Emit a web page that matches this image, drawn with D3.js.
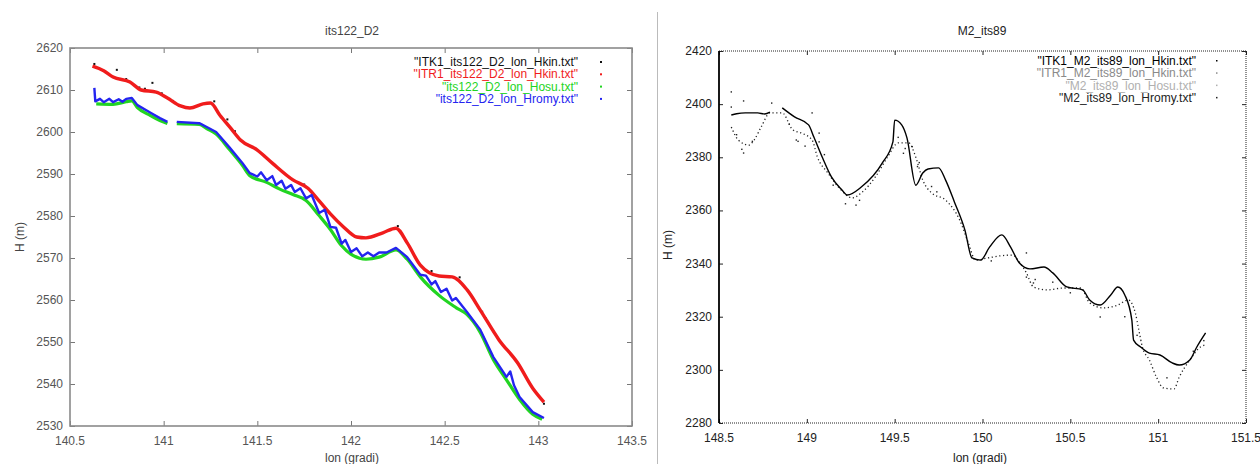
<!DOCTYPE html>
<html>
<head>
<meta charset="utf-8">
<script src="https://cdn.jsdelivr.net/npm/d3@7"></script>
<style>
  body { margin: 0; background: #fff; }
  svg { display: block; font-family: "Liberation Sans", Arial, sans-serif; }
</style>
</head>
<body>
<svg width="1260" height="464"></svg>
<script>

// ---- left panel: its122_D2 ----
var leftXTicks = [140.5, 141, 141.5, 142, 142.5, 143, 143.5];
var leftYTicks = [2530, 2540, 2550, 2560, 2570, 2580, 2590, 2600, 2610, 2620];
var leftNames = ['"ITK1_its122_D2_lon_Hkin.txt"', '"ITR1_its122_D2_lon_Hkin.txt"',
                 '"its122_D2_lon_Hosu.txt"', '"its122_D2_lon_Hromy.txt"'];
var leftColors = ["#111", "#f01c1c", "#22d422", "#2424f0"];

// null = gap in the track
var itk1Left = [[140.63,2616.2],[140.75,2614.8],[140.80,2612.6],[140.87,2610.6],[140.90,2610.3],
  [140.94,2611.7],[140.99,2609.2],[141.05,2607.4],[141.27,2607.3],[141.34,2603.0],[141.38,2600.2],
  [141.75,2587.5],[141.90,2580.0],[142.25,2577.6],[142.43,2566.9],[142.58,2565.4],[142.70,2557.2],
  [142.72,2555.6],[142.88,2545.7],[143.03,2535.3]];

var itr1Left = [[140.62,2615.7],[140.68,2614.6],[140.73,2613.1],[140.82,2611.9],[140.88,2610.0],
  [140.96,2609.5],[141.02,2608.1],[141.09,2606.2],[141.14,2605.7],[141.21,2606.7],[141.25,2606.9],
  [141.30,2604.0],[141.36,2600.8],[141.41,2598.1],[141.50,2595.7],[141.58,2592.6],[141.69,2588.6],
  [141.77,2586.6],[141.83,2583.6],[141.89,2580.5],[141.96,2577.4],[142.03,2575.0],[142.08,2574.8],
  [142.17,2576.0],[142.24,2577.1],[142.30,2573.6],[142.37,2568.3],[142.47,2565.7],[142.54,2565.5],
  [142.62,2562.4],[142.69,2557.6],[142.79,2550.5],[142.89,2545.0],[142.97,2539.0],[143.03,2535.7]];

var hosuLeft = [[140.64,2606.7],[140.73,2606.6],[140.80,2607.2],[140.83,2607.4],[140.86,2605.8],
  [140.93,2603.9],[140.98,2602.7],[141.02,2602.0], null, [141.07,2602.0],[141.19,2601.8],
  [141.23,2600.8],[141.28,2599.5],[141.35,2595.9],[141.42,2592.1],[141.46,2589.6],[141.55,2588.0],
  [141.62,2586.4],[141.69,2585.1],[141.76,2583.7],[141.83,2580.1],[141.89,2576.8],[141.95,2572.9],
  [142.01,2570.6],[142.08,2569.7],[142.15,2570.2],[142.24,2571.9],[142.30,2569.7],[142.37,2565.5],
  [142.47,2561.1],[142.56,2558.2],[142.62,2556.5],[142.69,2552.3],[142.76,2545.8],[142.83,2541.0],
  [142.90,2536.3],[142.97,2532.8],[143.02,2531.6]];

var hromyLeft = [[140.63,2610.5],[140.635,2607.3],[140.66,2607.9],[140.68,2607.1],[140.71,2607.9],
  [140.73,2607.1],[140.76,2607.8],[140.78,2607.2],[140.80,2607.9],[140.83,2608.1],[140.86,2606.4],
  [140.93,2604.6],[140.98,2603.3],[141.02,2602.4], null, [141.07,2602.4],[141.19,2602.1],
  [141.23,2601.2],[141.28,2600.0],[141.35,2596.4],[141.42,2592.6],[141.46,2590.2],[141.50,2589.4],
  [141.52,2590.4],[141.55,2588.5],[141.58,2589.5],[141.60,2587.4],[141.63,2588.4],[141.65,2586.5],
  [141.68,2587.4],[141.70,2585.7],[141.73,2586.6],[141.76,2584.2],[141.79,2585.0],[141.83,2580.7],
  [141.86,2581.5],[141.89,2577.4],[141.92,2577.2],[141.95,2573.4],[141.97,2574.3],[142.00,2571.4],
  [142.03,2572.3],[142.06,2570.4],[142.09,2571.3],[142.12,2570.4],[142.15,2571.3],[142.19,2571.3],
  [142.24,2572.4],[142.30,2570.2],[142.37,2566.0],[142.40,2565.8],[142.43,2563.7],[142.45,2564.5],
  [142.48,2561.9],[142.51,2562.7],[142.54,2559.9],[142.56,2560.5],[142.62,2557.1],[142.69,2552.9],
  [142.76,2546.4],[142.83,2541.7],[142.85,2543.0],[142.87,2539.7],[142.90,2536.9],[142.97,2533.3],
  [143.03,2531.9]];

// ---- right panel: M2_its89 ----
var rightXTicks = [148.5, 149, 149.5, 150, 150.5, 151, 151.5];
var rightYTicks = [2280, 2300, 2320, 2340, 2360, 2380, 2400, 2420];
var rightNames = ['"ITK1_M2_its89_lon_Hkin.txt"', '"ITR1_M2_its89_lon_Hkin.txt"',
                  '"M2_its89_lon_Hosu.txt"', '"M2_its89_lon_Hromy.txt"'];
var rightColors = ["#000", "#8a8a8a", "#b0b0b0", "#222"];

var itk1Right = [[148.57,2395.9],[148.60,2396.4],[148.65,2396.7],[148.72,2396.7],[148.76,2396.3],
  [148.79,2397.0], null, [148.86,2398.6],[148.93,2395.2],[149.01,2392.2],[149.04,2387.6],
  [149.09,2379.7],[149.14,2372.6],[149.20,2367.7],[149.23,2365.8],[149.31,2368.8],[149.43,2377.9],
  [149.49,2385.8],[149.50,2394.0],[149.54,2392.2],[149.57,2387.3],[149.62,2369.5],[149.66,2374.1],
  [149.69,2375.6],[149.75,2376.0],[149.79,2371.4],[149.84,2363.2],[149.90,2352.6],[149.94,2342.1],
  [149.99,2341.3],[150.04,2346.2],[150.11,2350.8],[150.16,2346.2],[150.21,2340.2],[150.27,2338.0],
  [150.35,2338.7],[150.40,2336.5],[150.48,2331.2],[150.57,2330.1],[150.61,2326.3],[150.67,2324.4],
  [150.73,2328.2],[150.77,2331.2],[150.81,2328.2],[150.85,2318.8],[150.86,2311.2],[150.90,2308.6],
  [150.95,2306.3],[151.01,2305.6],[151.08,2302.6],[151.12,2301.8],[151.18,2303.7],[151.22,2308.6],
  [151.27,2313.9]];

var itr1Right = [[148.57,2391.4],[148.61,2386.5],[148.67,2384.6],[148.70,2386.5],[148.74,2391.4],
  [148.79,2396.7],[148.86,2396.7],[148.92,2390.3],[148.97,2389.1],[149.03,2386.5],[149.06,2380.1],
  [149.12,2374.1],[149.18,2368.8],[149.26,2364.7],[149.31,2366.6],[149.39,2372.6],[149.46,2380.1],
  [149.52,2385.4],[149.58,2385.4],[149.62,2380.1],[149.66,2371.4],[149.71,2366.6],[149.79,2363.9],
  [149.87,2356.4],[149.92,2347.7],[149.96,2341.3],[150.03,2342.1],[150.10,2342.9],[150.17,2343.2],
  [150.21,2340.6],[150.25,2336.5],[150.29,2331.2],[150.37,2330.1],[150.46,2330.8],[150.56,2330.8],
  [150.61,2325.2],[150.69,2323.3],[150.77,2324.4],[150.83,2326.3],[150.87,2321.4],[150.89,2315.0],
  [150.91,2308.6],[150.95,2303.7],[150.99,2297.3],[151.03,2293.2],[151.09,2292.8],[151.12,2297.3],
  [151.18,2303.7],[151.24,2308.6],[151.27,2309.4]];

var hosuRight = [[148.57,2404.6],[148.57,2398.9],[148.64,2401.2],[148.80,2400.4],[149.03,2396.7],
  [148.64,2381.6],[149.07,2389.1],[149.07,2385.8],[148.95,2386.0],[148.99,2384.2],[149.10,2381.0],
  [149.22,2362.5],[149.30,2363.8],[149.55,2381.5],[149.60,2384.0],[149.64,2378.0],[149.71,2369.0],
  [150.25,2344.0],[150.25,2334.9],[150.29,2332.7],[150.67,2319.9],[150.30,2334.0]];

var hromyRight = [[148.60,2388.5],[148.63,2383.0],[148.69,2386.0],[148.90,2392.5],[148.94,2386.5],
  [149.15,2369.5],[149.28,2362.0],[149.52,2387.5],[149.56,2383.3],[149.63,2376.5],[149.74,2367.0],
  [150.05,2341.0],[150.40,2333.0],[150.50,2329.0],[150.81,2320.0],[150.88,2313.0],[151.05,2297.0],
  [151.20,2307.0],[151.26,2311.0]];

var svg = d3.select("svg");

var lineGen = function(x, y, curve) {
  return d3.line()
    .defined(function(d) { return d != null; })
    .curve(curve || d3.curveLinear)
    .x(function(d) { return x(d[0]); })
    .y(function(d) { return y(d[1]); });
};

function drawFrameTicks(g, x, y, xt, yt, w, h, col, len) {
  g.append("g").attr("transform", "translate(0," + h + ")")
    .call(d3.axisBottom(x).tickValues(xt).tickSize(-len).tickFormat(""));
  g.append("g")
    .call(d3.axisTop(x).tickValues(xt).tickSize(-len).tickFormat(""));
  g.append("g")
    .call(d3.axisLeft(y).tickValues(yt).tickSize(-len).tickFormat(""));
  g.append("g").attr("transform", "translate(" + w + ",0)")
    .call(d3.axisRight(y).tickValues(yt).tickSize(-len).tickFormat(""));
  g.selectAll(".domain").remove();
  g.selectAll(".tick line").attr("stroke", col);
}

// ================= left =================
function drawLeft() {
  var L = 70, T = 48, W = 562, H = 378;
  var g = svg.append("g").attr("transform", "translate(" + L + "," + T + ")");
  var x = d3.scaleLinear().domain([140.5, 143.5]).range([0, W]);
  var y = d3.scaleLinear().domain([2530, 2620]).range([H, 0]);

  drawFrameTicks(g, x, y, leftXTicks, leftYTicks, W, H, "#777", 5);
  g.append("rect").attr("width", W).attr("height", H)
    .attr("fill", "none").attr("stroke", "#8a8a8a").attr("stroke-width", 1.6);

  // tick labels
  g.selectAll(".xl").data(leftXTicks).enter().append("text")
    .attr("x", function(d) { return x(d); }).attr("y", H + 19)
    .attr("text-anchor", "middle").attr("font-size", 12).attr("fill", "#555")
    .text(function(d) { return d; });
  g.selectAll(".yl").data(leftYTicks).enter().append("text")
    .attr("x", -7).attr("y", function(d) { return y(d) + 4; })
    .attr("text-anchor", "end").attr("font-size", 12).attr("fill", "#555")
    .text(function(d) { return d; });

  svg.append("text").attr("x", 352).attr("y", 35).attr("text-anchor", "middle")
    .attr("font-size", 12).attr("fill", "#444").text("its122_D2");
  svg.append("text").attr("x", 352).attr("y", 462).attr("text-anchor", "middle")
    .attr("font-size", 12).attr("fill", "#444").text("lon (gradi)");
  svg.append("text").attr("transform", "translate(24,237) rotate(-90)")
    .attr("text-anchor", "middle").attr("font-size", 12).attr("fill", "#444").text("H (m)");

  var smooth = lineGen(x, y, d3.curveMonotoneX);
  var line = lineGen(x, y);
  g.selectAll(".k").data(itk1Left).enter().append("rect")
    .attr("x", function(d) { return x(d[0]) - 1; }).attr("y", function(d) { return y(d[1]) - 1; })
    .attr("width", 2).attr("height", 2).attr("fill", leftColors[0]);
  g.append("path").datum(itr1Left).attr("d", smooth).attr("fill", "none")
    .attr("stroke", leftColors[1]).attr("stroke-width", 3.4).attr("stroke-linejoin", "round");
  g.append("path").datum(hosuLeft).attr("d", smooth).attr("fill", "none")
    .attr("stroke", leftColors[2]).attr("stroke-width", 3.2).attr("stroke-linejoin", "round");
  g.append("path").datum(hromyLeft).attr("d", line).attr("fill", "none")
    .attr("stroke", leftColors[3]).attr("stroke-width", 2.4).attr("stroke-linejoin", "round");

  // legend
  var leg = svg.append("g");
  leftNames.forEach(function(n, i) {
    leg.append("text").attr("x", 578).attr("y", 66 + i * 12.3).attr("text-anchor", "end")
      .attr("font-size", 12).attr("fill", leftColors[i]).text(n);
    leg.append("rect").attr("x", 600).attr("y", 61 + i * 12.3).attr("width", 2).attr("height", 2)
      .attr("fill", leftColors[i]);
  });
}

// ================= right =================
function drawRight() {
  var L = 719, T = 51, W = 527, H = 372;
  var g = svg.append("g").attr("transform", "translate(" + L + "," + T + ")");
  var x = d3.scaleLinear().domain([148.5, 151.5]).range([0, W]);
  var y = d3.scaleLinear().domain([2280, 2420]).range([H, 0]);

  drawFrameTicks(g, x, y, rightXTicks, rightYTicks, W, H, "#222", 4);
  g.append("path").attr("d", "M0,0H" + W + "V" + H + "H0")
    .attr("fill", "none").attr("stroke", "#222").attr("stroke-width", 1)
    .attr("stroke-dasharray", "1,1");
  g.append("line").attr("x1", 0).attr("x2", 0).attr("y1", 0).attr("y2", H)
    .attr("stroke", "#000").attr("stroke-width", 1.8);

  g.selectAll(".xl").data(rightXTicks).enter().append("text")
    .attr("x", function(d) { return x(d); }).attr("y", H + 19)
    .attr("text-anchor", "middle").attr("font-size", 12).attr("fill", "#222")
    .text(function(d) { return d; });
  g.selectAll(".yl").data(rightYTicks).enter().append("text")
    .attr("x", -7).attr("y", function(d) { return y(d) + 4; })
    .attr("text-anchor", "end").attr("font-size", 12).attr("fill", "#222")
    .text(function(d) { return d; });

  svg.append("text").attr("x", 982).attr("y", 35).attr("text-anchor", "middle")
    .attr("font-size", 12).attr("fill", "#222").text("M2_its89");
  svg.append("text").attr("x", 980).attr("y", 462).attr("text-anchor", "middle")
    .attr("font-size", 12).attr("fill", "#222").text("lon (gradi)");
  svg.append("text").attr("transform", "translate(672,245) rotate(-90)")
    .attr("text-anchor", "middle").attr("font-size", 12).attr("fill", "#222").text("H (m)");

  var smooth = lineGen(x, y, d3.curveMonotoneX);
  g.append("path").datum(itr1Right).attr("d", smooth).attr("fill", "none")
    .attr("stroke", "#222").attr("stroke-width", 1.3).attr("stroke-dasharray", "1.2,2.6");
  [hosuRight, hromyRight].forEach(function(s) {
    g.selectAll(null).data(s).enter().append("rect")
      .attr("x", function(d) { return x(d[0]) - 0.7; }).attr("y", function(d) { return y(d[1]) - 0.7; })
      .attr("width", 1.4).attr("height", 1.4).attr("fill", "#222");
  });
  g.append("path").datum(itk1Right).attr("d", smooth).attr("fill", "none")
    .attr("stroke", "#000").attr("stroke-width", 1.4).attr("stroke-linejoin", "round");

  var leg = svg.append("g");
  rightNames.forEach(function(n, i) {
    leg.append("text").attr("x", 1196).attr("y", 65 + i * 12.3).attr("text-anchor", "end")
      .attr("font-size", 12).attr("fill", rightColors[i]).text(n);
    leg.append("rect").attr("x", 1216).attr("y", 60 + i * 12.3).attr("width", 1.5).attr("height", 1.5)
      .attr("fill", rightColors[i]);
  });
}

// separator between the two pictures
svg.append("line").attr("x1", 657.5).attr("x2", 657.5).attr("y1", 12).attr("y2", 464)
  .attr("stroke", "#bbb").attr("stroke-width", 1);

drawLeft();
drawRight();

</script>
</body>
</html>
